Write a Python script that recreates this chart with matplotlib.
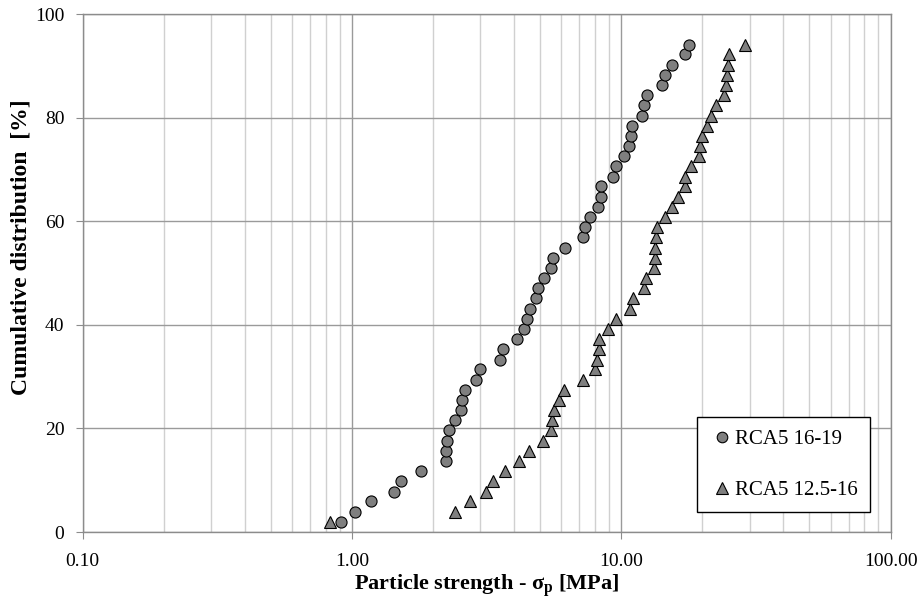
import numpy as np
import matplotlib.pyplot as plt
from matplotlib.ticker import FixedLocator, FuncFormatter, NullFormatter, LogLocator

plt.rcParams['font.family'] = ['Liberation Serif', 'DejaVu Serif']
plt.rcParams['mathtext.fontset'] = 'custom'
plt.rcParams['mathtext.rm'] = 'Liberation Serif'
plt.rcParams['mathtext.bf'] = 'Liberation Serif:bold'

cum_pct = [2.0, 3.9, 5.9, 7.8, 9.8, 11.8, 13.7, 15.7, 17.6, 19.6, 21.6, 23.5,
           25.5, 27.5, 29.4, 31.4, 33.3, 35.3, 37.3, 39.2, 41.2, 43.1, 45.1, 47.1,
           49.0, 51.0, 52.9, 54.9, 56.9, 58.8, 60.8, 62.7, 64.7, 66.7, 68.6, 70.6,
           72.5, 74.5, 76.5, 78.4, 80.4, 82.4, 84.3, 86.3, 88.2, 90.2, 92.2, 94.1]

rca_16_19 = [0.91, 1.03, 1.18, 1.43, 1.52, 1.80, 2.24, 2.24, 2.25, 2.30, 2.42, 2.54,
             2.56, 2.62, 2.88, 3.00, 3.56, 3.65, 4.10, 4.35, 4.45, 4.59, 4.83, 4.93,
             5.17, 5.51, 5.59, 6.19, 7.20, 7.31, 7.67, 8.17, 8.38, 8.40, 9.29, 9.58,
             10.2, 10.7, 10.9, 11.0, 11.9, 12.2, 12.5, 14.2, 14.6, 15.4, 17.2, 17.9]

rca_125_16 = [0.83, 2.41, 2.75, 3.14, 3.34, 3.71, 4.16, 4.56, 5.14, 5.51, 5.55, 5.65,
              5.88, 6.14, 7.20, 7.98, 8.12, 8.24, 8.26, 8.93, 9.57, 10.8, 11.05, 12.1,
              12.4, 13.2, 13.35, 13.4, 13.5, 13.6, 14.6, 15.4, 16.2, 17.3, 17.3, 18.2,
              19.5, 19.6, 20.0, 20.8, 21.6, 22.5, 24.1, 24.4, 24.7, 25.0, 25.2, 28.9]

labels = ['RCA5 16-19', 'RCA5 12.5-16']

fig = plt.figure(figsize=(9.2, 6.01), dpi=100)
ax = fig.add_axes([0.0897, 0.1148, 0.8783, 0.8619])

ax.plot(rca_16_19, cum_pct, 'o', ms=8, mfc='#7f7f7f', mec='black', mew=0.8,
        label=labels[0], zorder=3)
ax.plot(rca_125_16, cum_pct, '^', ms=8.5, mfc='#7f7f7f', mec='black', mew=0.8,
        label=labels[1], zorder=3)

ax.set_xscale('log')
ax.set_xlim(0.1, 100)
ax.set_ylim(0, 100)
ax.set_yticks([0, 20, 40, 60, 80, 100])
ax.xaxis.set_major_locator(FixedLocator([0.1, 1, 10, 100]))
ax.xaxis.set_major_formatter(FuncFormatter(lambda v, p: '{:.2f}'.format(v)))
ax.xaxis.set_minor_locator(LogLocator(base=10, subs=np.arange(2, 10)))
ax.xaxis.set_minor_formatter(NullFormatter())

ax.grid(True, which='major', color='#9a9a9a', lw=1.0)
ax.grid(True, which='minor', axis='x', color='#d0d0d0', lw=1.0)
ax.set_axisbelow(True)

for s in ax.spines.values():
    s.set_color('#8c8c8c')
    s.set_linewidth(1.0)

ax.tick_params(axis='both', which='major', direction='out', length=5,
               color='#8c8c8c', labelsize=14)
ax.tick_params(axis='x', which='major', pad=10)
ax.tick_params(axis='y', which='major', pad=8)
ax.tick_params(axis='x', which='minor', length=0)

ax.set_xlabel(r'Particle strength - $\mathbf{\sigma_p}$ [MPa]', fontsize=16, fontweight='bold')
ax.set_ylabel('Cumulative distribution  [%]', fontsize=17, fontweight='bold')
ax.xaxis.set_label_coords(0.5, -0.078)
ax.yaxis.set_label_coords(-0.063, 0.55)

leg = ax.legend(loc='lower right', bbox_to_anchor=(0.975, 0.038), borderaxespad=0,
                fontsize=15, fancybox=False, framealpha=1, edgecolor='black',
                handlelength=1.2, handletextpad=0.05, labelspacing=1.5,
                borderpad=0.6, markerscale=0.95)
leg.get_frame().set_linewidth(1.0)

fig.savefig('out.png', dpi=100)
